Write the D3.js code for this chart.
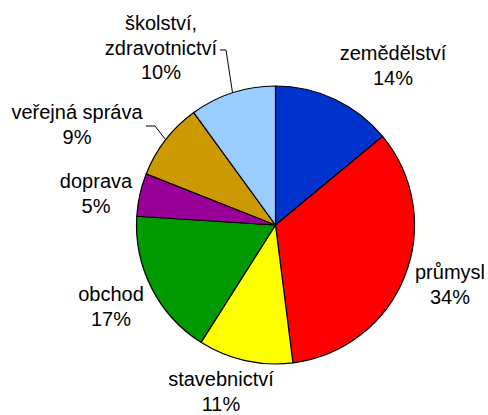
<!DOCTYPE html>
<html>
<head>
<meta charset="utf-8">
<script src="https://cdn.jsdelivr.net/npm/d3@7"></script>
<style>
  body { margin: 0; background: #fff; }
  text { font-family: "Liberation Sans", Arial, sans-serif; font-size: 20px; fill: #000; }
</style>
</head>
<body>
<svg width="488" height="415"></svg>
<script>
// sectors, clockwise from 12 o'clock
const sectors = ["zemědělství", "průmysl", "stavebnictví", "obchod", "doprava", "veřejná správa", "školství, zdravotnictví"];
const shares = [14, 34, 11, 17, 5, 9, 10];
const colors = ["#0033cc", "#ff0000", "#ffff00", "#009900", "#990099", "#cc9900", "#99ccff"];

// label lines (sector name may wrap)
const labelLines = [["zemědělství"], ["průmysl"], ["stavebnictví"], ["obchod"], ["doprava"], ["veřejná správa"], ["školství,", "zdravotnictví"]];

// layout: label block anchors (center x, first baseline) and leader line starts
const labelAt = [[393, 60], [450, 279], [221, 386], [111, 301], [96, 188], [77, 119], [161, 30]];
const leaders = [{ i: 5, x: 146, y: 126, elbow: 155 }, { i: 6, x: 220, y: 50, elbow: 226 }];

const svg = d3.select("svg");
const cx = 275.5, cy = 225, r = 139;
const lineH = 24.5;

const pie = d3.pie().sort(null).value(d => d);
const arcs = pie(shares);
const arc = d3.arc().innerRadius(0).outerRadius(r);
const edge = d3.arc().innerRadius(r).outerRadius(r);

const g = svg.append("g").attr("transform", `translate(${cx},${cy})`);

g.selectAll("path")
  .data(arcs)
  .join("path")
  .attr("d", arc)
  .attr("fill", (d, i) => colors[i])
  .attr("stroke", "#000")
  .attr("stroke-width", 1.2)
  .attr("stroke-linejoin", "round");

// leader lines
leaders.forEach(l => {
  const p = edge.centroid(arcs[l.i]);
  svg.append("polyline")
    .attr("points", `${l.x},${l.y} ${l.elbow},${l.y} ${cx + p[0]},${cy + p[1]}`)
    .attr("fill", "none")
    .attr("stroke", "#000")
    .attr("stroke-width", 1);
});

// labels
const lab = svg.append("g").attr("text-anchor", "middle");
arcs.forEach((d, i) => {
  const [x, y] = labelAt[i];
  const t = lab.append("text").attr("x", x).attr("y", y);
  const lines = labelLines[i].concat([shares[i] + "%"]);
  lines.forEach((s, k) => {
    t.append("tspan").attr("x", x).attr("y", y + k * lineH).text(s);
  });
});
</script>
</body>
</html>
